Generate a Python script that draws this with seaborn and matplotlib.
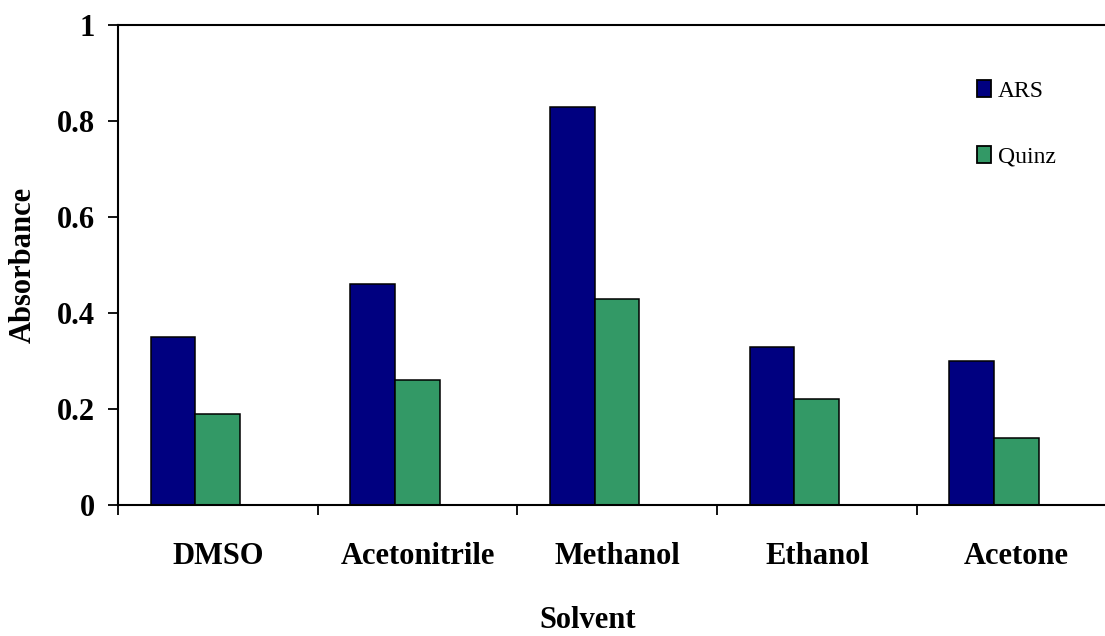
import numpy as np
import pandas as pd
import matplotlib
matplotlib.use('Agg')
import matplotlib.pyplot as plt
from matplotlib.patches import Patch
import seaborn as sns

# data
solvents = ['DMSO', 'Acetonitrile', 'Methanol', 'Ethanol', 'Acetone']
ars = [0.35, 0.46, 0.83, 0.33, 0.30]
quinz = [0.19, 0.26, 0.43, 0.22, 0.14]
series = ['ARS', 'Quinz']
colors = ['#000080', '#339966']
yticks = [0, 0.2, 0.4, 0.6, 0.8, 1]
ytick_labels = ['0', '0.2', '0.4', '0.6', '0.8', '1']

df = pd.DataFrame({
    'Solvent': solvents * 2,
    'Absorbance': ars + quinz,
    'Compound': [series[0]] * len(solvents) + [series[1]] * len(solvents),
})

sns.set_theme(style='white', rc={
    'text.color': 'black', 'axes.labelcolor': 'black',
    'xtick.color': 'black', 'ytick.color': 'black',
})
plt.rcParams['font.family'] = ['Liberation Serif', 'DejaVu Serif']

W, H = 1105, 636
fig = plt.figure(figsize=(W / 100, H / 100), dpi=100)
# plot box runs past the right edge of the picture, as in the reference crop
ax = fig.add_axes([118 / W, (H - 505) / H, 998.5 / W, 480 / H])

sns.barplot(
    data=df, x='Solvent', y='Absorbance', hue='Compound',
    order=solvents, hue_order=series, palette=colors,
    width=0.4468, saturation=1, errorbar=None,
    edgecolor='black', linewidth=1.1, legend=False, ax=ax
)

n = len(solvents)
shift = 0.3871  # category boundary sits left of the bar group
bounds = np.arange(n + 1) - shift
ax.set_xlim(bounds[0], bounds[-1])
ax.set_xticks(bounds)
ax.set_xticklabels([])
ax.set_xticks(np.arange(n) - shift + 0.5, minor=True)
ax.set_xticklabels(solvents, minor=True, fontsize=22, fontweight='bold')
ax.tick_params(axis='x', which='major', direction='out', length=7.5, width=1.3,
               color='black', bottom=True)
ax.tick_params(axis='x', which='minor', length=0, pad=27)

ax.set_ylim(0, 1)
ax.set_yticks(yticks)
ax.set_yticklabels(ytick_labels, fontsize=22, fontweight='bold')
ax.tick_params(axis='y', direction='out', length=7.5, width=1.3, color='black',
               pad=9, left=True)

for side in ['left', 'bottom', 'top', 'right']:
    ax.spines[side].set_color('black')
    ax.spines[side].set_linewidth(1.5)

ax.set_xlabel('')
ax.set_ylabel('')
fig.text(23 / W, 1 - 265 / H, 'Absorbance', rotation=90, ha='center', va='center',
         fontsize=22, fontweight='bold', color='black')
fig.text(588 / W, 1 - 620 / H, 'Solvent', ha='center', va='center',
         fontsize=22, fontweight='bold', color='black')

handles = [Patch(facecolor=c, edgecolor='black', linewidth=1.3) for c in colors]
leg = ax.legend(handles, series, loc='upper left',
                bbox_to_anchor=(977 / W, 1 - 80 / H), bbox_transform=fig.transFigure,
                frameon=False, borderpad=0, borderaxespad=0,
                handlelength=0.6, handleheight=0.75, handletextpad=0.3,
                labelspacing=1.85, prop={'size': 17})
for t in leg.get_texts():
    t.set_color('black')

fig.savefig('out.png', dpi=100)
